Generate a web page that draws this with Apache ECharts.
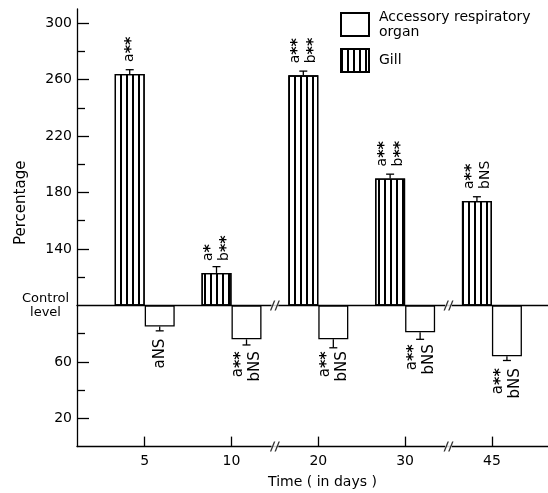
<!DOCTYPE html>
<html><head><meta charset="utf-8">
<script src="https://cdn.jsdelivr.net/npm/echarts@6/dist/echarts.min.js"></script>
<style>html,body{margin:0;padding:0;background:#fff}#c{width:548px;height:493px}</style>
</head><body><div id="c"></div>
<script>
// ---- data ----
const categories = ['5', '10', '20', '30', '45'];
const gillValues = [264, 123, 263, 190, 174];
const gillErrors = [3, 4.5, 3, 3, 3];
const organValues = [85, 76, 76, 81, 64];
const organErrors = [3, 4, 6, 5, 3];
const gillSignif = ['a**', 'a*\nb**', 'a**\nb**', 'a**\nb**', 'a**\nbNS'];
const organSignif = ['aNS', 'a**\nbNS', 'a**\nbNS', 'a**\nbNS', 'a**\nbNS'];
const yLabelTicks = [20, 60, 100, 140, 180, 220, 260, 300];
const yMinorTicks = [40, 80, 120, 160, 200, 240, 280];
const CONTROL = 100;
const yMax = 310;
const breaksAfter = [1, 3];

// ---- chart ----
const FONT = 'DejaVu Sans';
const BAR_W = 30;
const idx = categories.map((c, i) => i);
const sh = v => v - CONTROL;
const starFmt = s => s.replace(/\*+/g, m => '{s|' + m + '}');
const rich = { s: { fontSize: 16, fontWeight: 'bold', fontFamily: FONT, color: '#000', padding: [5, 0, 0, 0] } };

function errRender(offset) {
  return function (params, api) {
    const i = api.value(0), v = api.value(1), e = api.value(2);
    const s = v >= 0 ? 1 : -1;
    const a = api.coord([i, v]);
    const b = api.coord([i, v + s * e]);
    const x = a[0] + offset;
    const st = { stroke: '#000', lineWidth: 1.3 };
    return { type: 'group', children: [
      { type: 'line', shape: { x1: x, y1: a[1], x2: x, y2: b[1] }, style: st },
      { type: 'line', shape: { x1: x - 4, y1: b[1], x2: x + 4, y2: b[1] }, style: st }
    ] };
  };
}

const xMin = -0.78, xMax = 4.646;
const axisLineStyle = { color: '#000', width: 1.3 };

const option = {
  animation: false,
  backgroundColor: '#fff',
  textStyle: { fontFamily: FONT, color: '#000' },
  grid: { left: 77, right: 0, top: 9, bottom: 46.4, containLabel: false, outerBoundsMode: 'none' },
  legend: {
    orient: 'vertical', left: 340, top: 9.5, padding: 0,
    itemWidth: 28, itemHeight: 23, itemGap: 8.5, icon: 'rect',
    selectedMode: false,
    data: ['Accessory respiratory organ', 'Gill'],
    formatter: n => n === 'Accessory respiratory organ' ? 'Accessory respiratory\norgan' : n,
    textStyle: { fontFamily: FONT, fontSize: 14, color: '#000', lineHeight: 15, padding: [0, 0, 0, 5] }
  },
  xAxis: [{
    type: 'value', min: xMin, max: xMax, position: 'bottom',
    axisLine: { show: true, onZero: false, lineStyle: axisLineStyle },
    axisTick: { show: true, inside: true, length: 10, customValues: idx, lineStyle: axisLineStyle },
    axisLabel: { customValues: idx, formatter: v => categories[Math.round(v)], margin: 8, fontSize: 14, color: '#000', fontFamily: FONT },
    splitLine: { show: false },
    name: 'Time ( in days )', nameLocation: 'middle', nameGap: 29, nameMoveOverlap: false,
    nameTextStyle: { fontSize: 14, color: '#000', fontFamily: FONT, padding: [0, 0, 0, 20] }
  }, {
    type: 'value', min: xMin, max: xMax, position: 'bottom',
    axisLine: { show: true, onZero: true, onZeroAxisIndex: 0, lineStyle: axisLineStyle },
    axisTick: { show: false }, axisLabel: { show: false }, splitLine: { show: false }
  }],
  yAxis: [{
    type: 'value', min: sh(0), max: sh(yMax), position: 'left',
    axisLine: { show: true, onZero: false, lineStyle: axisLineStyle },
    axisTick: { show: true, inside: true, length: 12, customValues: yLabelTicks.filter(v => v !== CONTROL).map(sh), lineStyle: axisLineStyle },
    axisLabel: {
      customValues: yLabelTicks.map(sh), margin: 5, fontSize: 14, color: '#000', fontFamily: FONT,
      formatter: v => v === 0 ? '{c|Control}\n{c|level}' : String(v + CONTROL),
      rich: { c: { align: 'center', fontSize: 13, lineHeight: 14, fontFamily: FONT, color: '#000', padding: [0, 3, 0, 0] } }
    },
    splitLine: { show: false },
    name: 'Percentage', nameLocation: 'middle', nameGap: 48, nameMoveOverlap: false,
    nameTextStyle: { fontSize: 15, color: '#000', fontFamily: FONT, padding: [0, 0, 0, 50] }
  }, {
    type: 'value', min: sh(0), max: sh(yMax), position: 'left',
    axisLine: { show: false, onZero: false },
    axisTick: { show: true, inside: true, length: 8, customValues: yMinorTicks.map(sh), lineStyle: axisLineStyle },
    axisLabel: { show: false }, splitLine: { show: false }
  }],
  series: [
    {
      name: 'Gill', type: 'bar', xAxisIndex: 0, yAxisIndex: 0,
      barWidth: BAR_W, barGap: '0%',
      data: gillValues.map((v, i) => [i, sh(v)]),
      itemStyle: {
        color: '#fff', borderColor: '#000', borderWidth: 1.3,
        decal: { symbol: 'rect', symbolSize: 1, color: '#000', dashArrayX: [1.4, 3.6], dashArrayY: [10, 0], rotation: 0 }
      },
      label: {
        show: true, position: 'top', distance: 12, rotate: 90, align: 'left', verticalAlign: 'middle',
        fontSize: 14, lineHeight: 16, color: '#000', fontFamily: FONT, rich: rich,
        formatter: p => starFmt(gillSignif[p.dataIndex])
      }
    },
    {
      name: 'Accessory respiratory organ', type: 'bar', xAxisIndex: 0, yAxisIndex: 0,
      barWidth: BAR_W, barGap: '0%',
      data: organValues.map((v, i) => [i, sh(v)]),
      itemStyle: { color: '#fff', borderColor: '#000', borderWidth: 1.3 },
      label: {
        show: true, position: 'bottom', distance: 12, rotate: 90, align: 'right', verticalAlign: 'middle',
        fontSize: 15, lineHeight: 17, color: '#000', fontFamily: FONT, rich: rich,
        formatter: p => starFmt(organSignif[p.dataIndex])
      }
    },
    {
      name: 'gillErr', type: 'custom', xAxisIndex: 0, yAxisIndex: 0, z: 5,
      encode: { x: 0, y: 1 },
      data: gillValues.map((v, i) => [i, sh(v), gillErrors[i]]),
      renderItem: errRender(-BAR_W / 2)
    },
    {
      name: 'organErr', type: 'custom', xAxisIndex: 0, yAxisIndex: 0, z: 5,
      encode: { x: 0, y: 1 },
      data: organValues.map((v, i) => [i, sh(v), organErrors[i]]),
      renderItem: errRender(BAR_W / 2)
    },
    {
      name: 'breakBg', type: 'scatter', xAxisIndex: 0, yAxisIndex: 0, z: 6, clip: false, silent: true,
      symbol: 'rect', symbolSize: [7, 5],
      itemStyle: { color: '#fff' },
      data: breaksAfter.flatMap(i => [[i + 0.5, sh(CONTROL)], [i + 0.5, sh(0)]])
    },
    {
      name: 'breakMark', type: 'scatter', xAxisIndex: 0, yAxisIndex: 0, z: 7, clip: false, silent: true,
      symbol: 'path://M0,10L4,0L5.4,0L1.4,10Z M4.6,10L8.6,0L10,0L6,10Z', symbolSize: [10, 10],
      itemStyle: { color: '#000' },
      data: breaksAfter.flatMap(i => [[i + 0.5, sh(CONTROL)], [i + 0.5, sh(0)]])
    }
  ]
};

const chart = echarts.init(document.getElementById('c'), null, { renderer: 'canvas' });
chart.setOption(option);
</script>
</body></html>
